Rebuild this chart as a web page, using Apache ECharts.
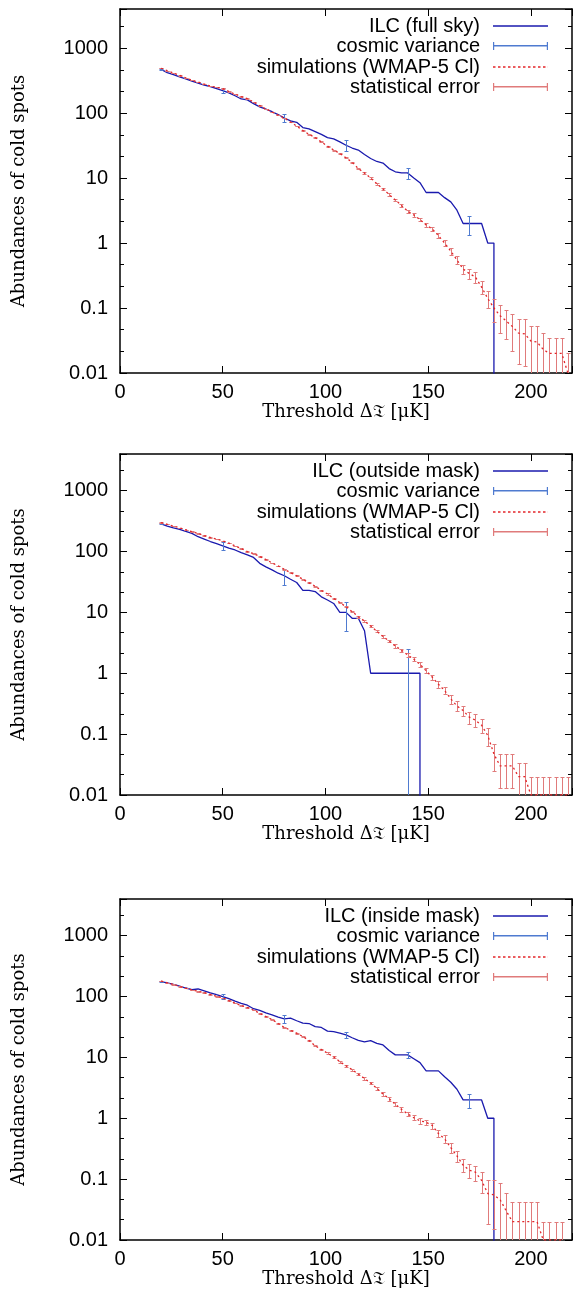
<!DOCTYPE html>
<html>
<head>
<meta charset="utf-8">
<script src="https://cdn.jsdelivr.net/npm/echarts@6/dist/echarts.min.js"></script>
<style>
html,body{margin:0;padding:0;background:#fff;}
#chart{width:573px;height:1296px;}
</style>
</head>
<body>
<div id="chart"></div>
<script>
// ---------------- DATA ----------------
const thresholds = [20,23,26,29,32,35,38,41,44,47,50,53,56,59,62,65,68,71,74,77,80,83,86,89,92,95,98,101,104,107,110,113,116,119,122,125,128,131,134,137,140,143,146,149,152,155,158,161,164,167,170,173,176,179,182,185,188,191,194,197,200,203,206,209,212,215,218];

const xTickValues = [0, 50, 100, 150, 200];
const xTickLabels = ['0', '50', '100', '150', '200'];
const yTickValues = [0.01, 0.1, 1, 10, 100, 1000];
const yTickLabels = ['0.01', '0.1', '1', '10', '100', '1000'];

const cvThresholds = [20, 50, 80, 110, 140, 170];

// Panel 1: full sky
const ilcFullSky = [470,420,390,362,335,310,290,270,255,238,222,205,185,165,160,140,125,115,105,95,84,76,72,60,57,52,47,42,40,36,32,29,27,23,20,18,17,14,12.5,12,12,10,8.5,6,6,6,5,4.3,3.2,2,2,2,2,1,1,0];
const cvErrFullSky = [15, 18, 12, 6, 2.3, 0.65];
const simFullSky = [490,450,415,380,350,320,300,280,260,250,238,215,195,180,167,148,130,116,104,93,84,73,63,54,47,42,36,31,27,24,20.5,17.5,14,12,10,8.2,6.8,5.6,4.6,3.8,3.1,2.7,2.3,1.9,1.65,1.3,1.0,0.75,0.55,0.40,0.34,0.30,0.21,0.14,0.10,0.076,0.063,0.052,0.041,0.040,0.031,0.030,0.023,0.020,0.020,0.020,0.010];
const simErrFullSky = [2.2,2.1,2.0,1.95,1.87,1.79,1.73,1.67,1.61,1.58,1.54,1.47,1.4,1.34,1.29,1.22,1.14,1.08,1.02,0.96,0.92,0.85,0.79,0.73,0.69,0.65,0.6,0.56,0.52,0.49,0.45,0.42,0.37,0.35,0.32,0.29,0.26,0.24,0.21,0.19,0.18,0.16,0.15,0.14,0.13,0.11,0.10,0.087,0.074,0.063,0.058,0.055,0.046,0.04,0.04,0.035,0.03,0.03,0.027,0.027,0.022,0.022,0.018,0.015,0.015,0.015,0.01];

// Panel 2: outside mask
const ilcOutside = [284,262,245,232,215,199,175,160,146,135,124,114,106,96,88,80,64,56,50,44,40,35,31,23,23,22,18,16,14,10,10,8,8,5,1,1,1,1,1,1,1,1,1,0];
const cvErrOutside = [6, 19, 11.5, 5, 1.5, null];
const simOutside = [298,280,262,245,228,212,198,183,170,160,150,137,124,112,100,92,83,74,65,58,51,45,40,35,30.5,27,23,20,17,14.5,12.4,10.3,8.5,7.2,6.0,4.9,4.0,3.4,2.8,2.4,2.0,1.7,1.4,1.1,0.86,0.66,0.52,0.38,0.29,0.245,0.19,0.17,0.14,0.095,0.047,0.03,0.03,0.03,0.02,0.02,0.01,0.01,0.01,0.01,0.01,0.01,0.01];
const simErrOutside = [1.73,1.67,1.62,1.57,1.51,1.46,1.41,1.35,1.3,1.26,1.22,1.17,1.11,1.06,1.0,0.96,0.91,0.86,0.81,0.76,0.71,0.67,0.63,0.59,0.55,0.52,0.48,0.45,0.41,0.38,0.35,0.32,0.29,0.27,0.24,0.22,0.2,0.18,0.17,0.15,0.14,0.13,0.12,0.105,0.093,0.081,0.072,0.062,0.054,0.05,0.044,0.041,0.037,0.031,0.022,0.017,0.017,0.017,0.014,0.014,0.01,0.01,0.01,0.01,0.01,0.01,0.01];

// Panel 3: inside mask
const ilcInside = [176,168,158,148,138,130,133,124,115,107,100,92,84,77,72,63,59,54,50,46,43,44,40,36.5,36,32,31,27,26.5,25,23.4,21,19,18,18.8,17,16,13,11,11,11,9.5,8.2,6,6,6,4.8,3.9,3.0,2,2,2,2,1,1,0];
const cvErrInside = [4, 8, 6.5, 2.7, 1.4, 0.5];
const simInside = [180,168,158,147,137,128,122,116,108,101,95,86,78,71,66,60,53,47,42,36,31,28,25,22,19,15.5,13.5,11.7,10.2,8.5,7.3,6.3,5.3,4.5,3.8,3.1,2.5,2.1,1.7,1.4,1.18,1.02,0.91,0.86,0.76,0.56,0.46,0.33,0.24,0.17,0.14,0.13,0.095,0.058,0.055,0.046,0.03,0.02,0.02,0.02,0.02,0.02,0.01,0.01,0.01,0.01,null];
const simErrInside = [1.34,1.3,1.26,1.21,1.17,1.13,1.1,1.08,1.04,1.0,0.97,0.93,0.88,0.84,0.81,0.77,0.73,0.69,0.65,0.6,0.56,0.53,0.5,0.47,0.44,0.39,0.37,0.34,0.32,0.29,0.27,0.25,0.23,0.21,0.19,0.18,0.16,0.145,0.13,0.12,0.11,0.1,0.095,0.093,0.087,0.075,0.068,0.057,0.049,0.041,0.037,0.036,0.035,0.04,0.04,0.04,0.03,0.022,0.022,0.022,0.022,0.022,0.01,0.01,0.01,0.01,null];

const ilcNames = ['ILC (full sky)', 'ILC (outside mask)', 'ILC (inside mask)'];
const cvName = 'cosmic variance';
const simName = 'simulations (WMAP-5 Cl)';
const statName = 'statistical error';

const xTitle = 'Threshold \u0394\uD835\uDD17 [\u03BCK]';
const yTitle = 'Abundances of cold spots';

// ---------------- LAYOUT / STYLE ----------------
const X_MIN = 0, X_MAX = 220, Y_MIN = 0.01, Y_MAX = 4000;
const gridTops = [9, 454, 899];
const gridHeights = [364, 341, 341];
const gridLeft = 120;
const gridRight = 1;
const legendRowOffsets = [17, 37, 58, 78];
const SANS = 'Liberation Sans, Arial, Helvetica, sans-serif';
const SERIF = 'DejaVu Serif, serif';
const C_ILC = '#1a1aae';
const C_CV = '#4f7bd0';
const C_SIM = '#e3262a';
const C_STAT = '#e07b7b';

const panels = [
  {ilc: ilcFullSky, cvErr: cvErrFullSky, sim: simFullSky, simErr: simErrFullSky},
  {ilc: ilcOutside, cvErr: cvErrOutside, sim: simOutside, simErr: simErrOutside},
  {ilc: ilcInside, cvErr: cvErrInside, sim: simInside, simErr: simErrInside}
];

function fmtFromList(values, labels, isLog) {
  return function (v) {
    for (let k = 0; k < values.length; k++) {
      const d = isLog ? Math.abs(Math.log10(v) - Math.log10(values[k])) : Math.abs(v - values[k]);
      if (d < 1e-6) return labels[k];
    }
    return '';
  };
}

function errRender(capHalf) {
  return function (params, api) {
    const x = api.value(0), y = api.value(1), e = api.value(2);
    const lo = (y - e) > 0 ? (y - e) : 1e-6;
    const top = api.coord([x, y + e]);
    const bot = api.coord([x, lo]);
    const cx = Math.round(top[0]) + 0.5;
    const ty = Math.round(top[1]) + 0.5;
    const by = Math.round(bot[1]) + 0.5;
    const st = {stroke: api.visual('color'), lineWidth: 1};
    return {
      type: 'group',
      children: [
        {type: 'line', shape: {x1: cx, y1: ty, x2: cx, y2: by}, style: st},
        {type: 'line', shape: {x1: cx - capHalf, y1: ty, x2: cx + capHalf, y2: ty}, style: st},
        {type: 'line', shape: {x1: cx - capHalf, y1: by, x2: cx + capHalf, y2: by}, style: st}
      ]
    };
  };
}

// legend sample glyphs (key style, not data)
const solidIcon = 'path://M0,0h55v1.5h-55z';
let dotted = '';
for (let s = 0; s < 55; s += 5) dotted += 'M' + s + ',0h2.5v1.5h-2.5z ';
const dottedIcon = 'path://' + dotted + 'M54.9,0h0.1v1.5h-0.1z';
const errIcon = 'path://M0,0h1.2v8h-1.2z M0,3h55v1.5h-55z M53.8,0h1.2v8h-1.2z';

const grids = [], xAxes = [], yAxes = [], series = [], legends = [];
const logTop = Math.log10(Y_MAX), logBot = Math.log10(Y_MIN);

panels.forEach(function (p, i) {
  grids.push({left: gridLeft, right: gridRight, top: gridTops[i], height: gridHeights[i], outerBoundsMode: 'none', containLabel: false});
  xAxes.push({
    gridIndex: i, type: 'value', position: 'bottom', min: X_MIN, max: X_MAX, interval: 50,
    axisLine: {show: true, onZero: false, lineStyle: {color: '#000', width: 1.5}},
    axisTick: {show: true, inside: true, length: 7, lineStyle: {color: '#000', width: 1}},
    axisLabel: {show: true, margin: 9, fontSize: 20, fontFamily: SANS, color: '#000', formatter: fmtFromList(xTickValues, xTickLabels, false)},
    splitLine: {show: false},
    name: xTitle, nameLocation: 'middle', nameGap: 30, nameMoveOverlap: false,
    nameTextStyle: {fontFamily: SERIF, fontSize: 18, color: '#000'}
  });
  xAxes.push({
    gridIndex: i, type: 'value', position: 'top', min: X_MIN, max: X_MAX, interval: 50,
    axisLine: {show: true, onZero: false, lineStyle: {color: '#000', width: 1.5}},
    axisTick: {show: true, inside: true, length: 7, lineStyle: {color: '#000', width: 1}},
    axisLabel: {show: false}, splitLine: {show: false}
  });
  yAxes.push({
    gridIndex: i, type: 'log', logBase: 10, position: 'left', min: Y_MIN, max: Y_MAX,
    axisLine: {show: true, onZero: false, lineStyle: {color: '#000', width: 1.5}},
    axisTick: {show: true, inside: true, length: 7, lineStyle: {color: '#000', width: 1}},
    minorTick: {show: false},
    axisLabel: {show: true, margin: 12, fontSize: 20, fontFamily: SANS, color: '#000', formatter: fmtFromList(yTickValues, yTickLabels, true)},
    splitLine: {show: false},
    name: yTitle, nameLocation: 'middle', nameGap: 92, nameRotate: 90, nameMoveOverlap: false,
    nameTextStyle: {fontFamily: SERIF, fontSize: 18, color: '#000'}
  });
  yAxes.push({
    gridIndex: i, type: 'value', position: 'left', min: logBot, max: logTop, interval: 1 / 3,
    axisLine: {show: false, onZero: false},
    axisTick: {show: true, inside: true, length: 4, lineStyle: {color: '#000', width: 1}},
    axisLabel: {show: false}, splitLine: {show: false}
  });
  yAxes.push({
    gridIndex: i, type: 'value', position: 'right', min: logBot, max: logTop, interval: 1,
    axisLine: {show: true, onZero: false, lineStyle: {color: '#000', width: 1.5}},
    axisTick: {show: true, inside: true, length: 7, lineStyle: {color: '#000', width: 1}},
    axisLabel: {show: false}, splitLine: {show: false}
  });
  yAxes.push({
    gridIndex: i, type: 'value', position: 'right', min: logBot, max: logTop, interval: 1 / 3,
    axisLine: {show: false, onZero: false},
    axisTick: {show: true, inside: true, length: 4, lineStyle: {color: '#000', width: 1}},
    axisLabel: {show: false}, splitLine: {show: false}
  });

  const xi = i * 2, yi = i * 4;

  const ilcPts = [];
  for (let k = 0; k < p.ilc.length; k++) {
    if (p.ilc[k] > 0) ilcPts.push([thresholds[k], p.ilc[k]]);
    else { ilcPts.push([thresholds[k - 1], 1e-6]); break; }
  }
  series.push({
    name: ilcNames[i], type: 'line', xAxisIndex: xi, yAxisIndex: yi, data: ilcPts,
    symbol: 'none', showSymbol: false, clip: true, z: 2,
    lineStyle: {color: C_ILC, width: 1.3}, itemStyle: {color: C_ILC}
  });

  const cvData = [];
  cvThresholds.forEach(function (x, k) {
    const idx = thresholds.indexOf(x);
    const v = p.ilc[idx];
    if (p.cvErr[k] != null && v > 0) cvData.push([x, v, p.cvErr[k]]);
  });
  series.push({
    name: cvName, type: 'custom', xAxisIndex: xi, yAxisIndex: yi, data: cvData,
    renderItem: errRender(2), clip: true, z: 3, itemStyle: {color: C_CV}
  });

  const simPts = [];
  const statData = [];
  thresholds.forEach(function (x, k) {
    if (p.sim[k] != null) {
      simPts.push([x, p.sim[k]]);
      statData.push([x, p.sim[k], p.simErr[k]]);
    }
  });
  series.push({
    name: simName, type: 'line', xAxisIndex: xi, yAxisIndex: yi, data: simPts,
    symbol: 'none', showSymbol: false, clip: true, z: 5,
    lineStyle: {color: C_SIM, width: 1.3, type: [2, 3]}, itemStyle: {color: C_SIM}
  });
  series.push({
    name: statName, type: 'custom', xAxisIndex: xi, yAxisIndex: yi, data: statData,
    renderItem: errRender(2), clip: true, z: 4, itemStyle: {color: C_STAT}
  });

  const rows = [
    {name: ilcNames[i], icon: solidIcon, itemStyle: {color: C_ILC, borderWidth: 0, opacity: 1}},
    {name: cvName, icon: errIcon, itemStyle: {color: C_CV, borderWidth: 0, opacity: 1}},
    {name: simName, icon: dottedIcon, itemStyle: {color: C_SIM, borderWidth: 0, opacity: 1}},
    {name: statName, icon: errIcon, itemStyle: {color: C_STAT, borderWidth: 0, opacity: 1}}
  ];
  rows.forEach(function (r, k) {
    legends.push({
      show: true, orient: 'vertical', align: 'right', right: 25,
      top: gridTops[i] + legendRowOffsets[k] - 10, padding: 0,
      itemWidth: 55, itemHeight: 8, selectedMode: false, inactiveColor: r.itemStyle.color,
      data: [r],
      textStyle: {fontFamily: SANS, fontSize: 20, color: '#000', lineHeight: 20, padding: [0, 8, 0, 0]}
    });
  });
});

const chart = echarts.init(document.getElementById('chart'), null, {renderer: 'canvas'});
chart.setOption({
  animation: false,
  backgroundColor: '#fff',
  grid: grids,
  xAxis: xAxes,
  yAxis: yAxes,
  legend: legends,
  series: series
});
</script>
</body>
</html>
